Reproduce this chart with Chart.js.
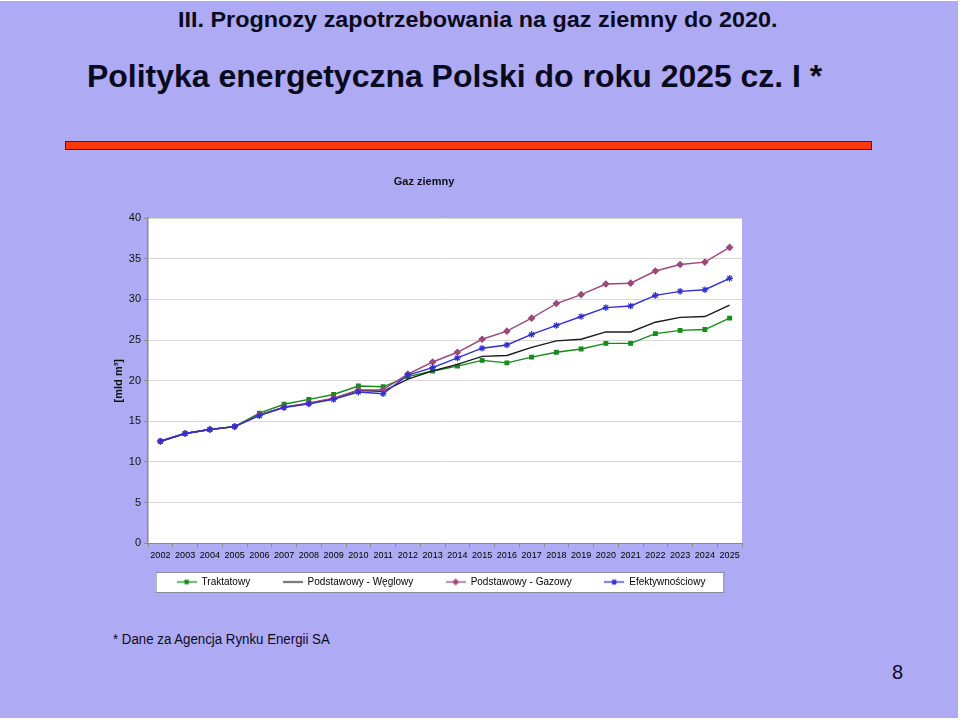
<!DOCTYPE html>
<html>
<head>
<meta charset="utf-8">
<script src="https://cdn.jsdelivr.net/npm/chart.js@4.4.1/dist/chart.umd.min.js"></script>
<style>
  body { margin: 0; background: #fff; }
  #slide { position: absolute; left: 0; top: 1px; width: 958px; height: 717px; background: #aeaaf3; overflow: hidden;
           font-family: "Liberation Sans", Arial, sans-serif; color: #0a0a1e; }
  .txt { position: absolute; white-space: nowrap; transform-origin: left center; }
  #t1 { left: 178px; top: 6px; font-size: 22px; font-weight: bold; }
  #t2 { left: 87px; top: 57px; font-size: 32px; font-weight: bold; }
  #bar { position: absolute; left: 65px; top: 140px; width: 805px; height: 7px; background: #ff3a0a; border: 1px solid #5a1a1a; }
  #foot { left: 113px; top: 630px; font-size: 14px; }
  #page { left: 892px; top: 660px; font-size: 20px; }
  #chartBox { position: absolute; left: 98px; top: 164px; width: 652px; height: 440px; }
</style>
</head>
<body>
<div id="slide">
  <div class="txt" id="t1" data-w="600">III. Prognozy zapotrzebowania na gaz ziemny do 2020.</div>
  <div class="txt" id="t2" data-w="735">Polityka energetyczna Polski do roku 2025 cz. I *</div>
  <div id="bar"></div>
  <div id="chartBox"><canvas id="gas-chart"></canvas></div>
  <div class="txt" id="foot" data-w="217">* Dane za Agencja Rynku Energii SA</div>
  <div class="txt" id="page">8</div>
</div>
<script>
// squeeze the narrow slide titles to their width in the picture
document.querySelectorAll(".txt[data-w]").forEach((el) => {
  el.style.transform = "scaleX(" + (el.dataset.w / el.offsetWidth) + ")"
})

// data
const years = ["2002", "2003", "2004", "2005", "2006", "2007", "2008", "2009", "2010", "2011", "2012", "2013",
  "2014", "2015", "2016", "2017", "2018", "2019", "2020", "2021", "2022", "2023", "2024", "2025"]
const traktatowy = [12.55, 13.5, 14.0, 14.35, 16.0, 17.1, 17.7, 18.3, 19.35, 19.25, 20.5, 21.2,
  21.8, 22.5, 22.2, 22.9, 23.5, 23.9, 24.6, 24.6, 25.8, 26.2, 26.3, 27.7]
const weglowy = [12.55, 13.5, 14.0, 14.35, 15.8, 16.75, 17.2, 17.8, 18.8, 18.7, 20.2, 21.2,
  22.0, 23.0, 23.1, 24.1, 24.9, 25.1, 26.0, 26.0, 27.2, 27.8, 27.9, 29.3]
const gazowy = [12.55, 13.5, 14.0, 14.35, 15.8, 16.75, 17.25, 17.85, 18.85, 18.9, 20.8, 22.3,
  23.5, 25.1, 26.1, 27.7, 29.5, 30.6, 31.9, 32.0, 33.5, 34.3, 34.6, 36.4]
const efektywnosciowy = [12.55, 13.5, 14.0, 14.35, 15.7, 16.7, 17.15, 17.7, 18.6, 18.4, 20.7, 21.6,
  22.8, 24.0, 24.4, 25.7, 26.8, 27.9, 29.0, 29.2, 30.5, 31.0, 31.2, 32.6]
const yTicks = [0, 5, 10, 15, 20, 25, 30, 35, 40]

const seriesStyle = [
  { label: "Traktatowy", data: traktatowy, color: "#168a1c", point: "rect", radius: 2.6 },
  { label: "Podstawowy - Węglowy", data: weglowy, color: "#1a1a1a", point: false, radius: 0 },
  { label: "Podstawowy - Gazowy", data: gazowy, color: "#9a4a78", point: "rectRot", radius: 3 },
  { label: "Efektywnościowy", data: efektywnosciowy, color: "#3030d0", point: "star", radius: 3.3 }
]

// small line + marker picture for the legend, like Excel draws it
const legendSample = (s) => {
  const c = document.createElement("canvas")
  c.width = 20
  c.height = 9
  const g = c.getContext("2d")
  g.strokeStyle = s.color
  g.fillStyle = s.color
  g.lineWidth = 1.3
  g.beginPath()
  g.moveTo(0, 4.5)
  g.lineTo(20, 4.5)
  g.stroke()
  if (s.point) {
    Chart.helpers.drawPoint(g, { pointStyle: s.point, radius: s.radius * 0.85, borderWidth: 1.2 }, 10, 4.5)
    g.fill()
  }
  return c
}

const gap = "\u00a0".repeat(7)

const slideLayout = {
  id: "slideLayout",
  afterUpdate(chart) {
    // Excel centres the legend and title a bit to the right of the canvas middle
    const lg = chart.legend
    lg.left += 21
    lg.right += 21
    lg.legendHitBoxes.forEach(b => { b.left += 21 })
    chart.titleBlock.left += 4
    chart.titleBlock.right += 4
  },
  beforeDraw(chart) {
    const { ctx, chartArea: a } = chart
    ctx.save()
    ctx.fillStyle = "#ffffff"
    ctx.fillRect(a.left, a.top, a.right - a.left, a.bottom - a.top)
    // white box round the legend
    const boxes = chart.legend.legendHitBoxes
    if (boxes && boxes.length) {
      const x1 = Math.min(...boxes.map(b => b.left)) - 21
      const x2 = Math.max(...boxes.map(b => b.left + b.width)) + 18
      const y1 = Math.min(...boxes.map(b => b.top)) - 5
      const y2 = Math.max(...boxes.map(b => b.top + b.height)) + 5
      ctx.fillRect(x1, y1, x2 - x1, y2 - y1)
      ctx.strokeStyle = "#8a8a9a"
      ctx.lineWidth = 1
      ctx.strokeRect(x1 + 0.5, y1 + 0.5, x2 - x1, y2 - y1)
    }
    ctx.restore()
  }
}

document.addEventListener("DOMContentLoaded", () => {
  const ctx = document.getElementById("gas-chart").getContext("2d")
  const gasChart = new Chart(ctx, {
    type: "line",
    data: {
      labels: years,
      datasets: seriesStyle.map((s, i) => ({
        label: s.label,
        data: s.data,
        borderColor: s.color,
        backgroundColor: s.color,
        borderWidth: 1.4,
        pointStyle: s.point,
        pointRadius: s.radius,
        pointBorderWidth: 1.2,
        tension: 0,
        order: 3 - i
      }))
    },
    options: {
      responsive: true,
      maintainAspectRatio: false,
      animation: false,
      layout: { padding: { left: 0, right: 8, top: 0, bottom: 8 } },
      scales: {
        x: {
          offset: true,
          grid: { display: true, drawOnChartArea: false, offset: true, tickLength: 4, color: "#8a8a8a" },
          border: { color: "#8a8a8a", width: 1 },
          ticks: { color: "#000", font: { size: 9, family: "Liberation Sans" }, maxRotation: 0, autoSkip: false, padding: 3 }
        },
        y: {
          min: 0,
          max: 40,
          afterBuildTicks: (axis) => { axis.ticks = yTicks.map(v => ({ value: v })) },
          afterFit: (axis) => { axis.width = 50 },
          grid: { color: "#d8d8d8", tickColor: "#8a8a8a", tickLength: 4 },
          border: { color: "#8a8a8a", width: 1.5 },
          ticks: { color: "#111", font: { size: 11, family: "Liberation Sans" }, padding: 3 },
          title: {
            display: true,
            text: "[mld m³]",
            color: "#111",
            font: { size: 11, weight: "bold", family: "Liberation Sans" },
            padding: { top: 14, bottom: 0 }
          }
        }
      },
      plugins: {
        title: {
          display: true,
          text: "Gaz ziemny",
          color: "#111",
          font: { size: 11, weight: "bold", family: "Liberation Sans" },
          padding: { top: 10, bottom: 30 }
        },
        legend: {
          position: "bottom",
          labels: {
            usePointStyle: true,
            pointStyleWidth: 20,
            boxHeight: 9,
            padding: 13,
            color: "#000",
            font: { size: 10, family: "Liberation Sans" },
            generateLabels: (chart) => seriesStyle.map((s, i) => ({
              text: i < seriesStyle.length - 1 ? s.label + gap : s.label,
              pointStyle: legendSample(s),
              fillStyle: s.color,
              strokeStyle: s.color,
              lineWidth: 0,
              hidden: false,
              datasetIndex: i
            }))
          }
        },
        tooltip: { enabled: false }
      }
    },
    plugins: [slideLayout]
  })
})
</script>
</body>
</html>
